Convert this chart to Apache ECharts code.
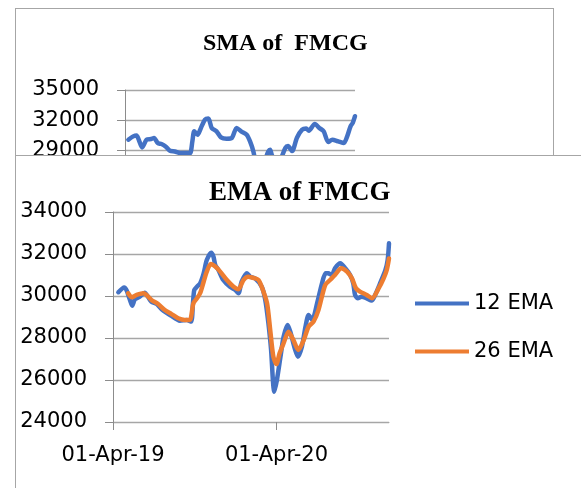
<!DOCTYPE html>
<html>
<head>
<meta charset="utf-8">
<script src="https://cdn.jsdelivr.net/npm/echarts@6/dist/echarts.min.js"></script>
<style>
html,body{margin:0;padding:0;background:#fff;overflow:hidden;width:581px;height:488px;}
#smaBox{position:absolute;left:15px;top:8px;width:537px;height:300px;border:1px solid #a6a6a6;background:#fff;}
#emaBox{position:absolute;left:15px;top:155px;width:578px;height:338px;border:1px solid #a6a6a6;background:#fff;z-index:2;}
</style>
</head>
<body>
<div id="smaBox"></div>
<div id="emaBox"></div>
<script>
// top chart (mostly covered): simple moving average
var smaDates = ['2019-04-10','2019-04-23','2019-05-02','2019-05-08','2019-05-17','2019-05-29','2019-06-10','2019-06-18','2019-06-28','2019-07-08',
    '2019-07-19','2019-07-31','2019-08-13','2019-08-27','2019-09-14','2019-09-23','2019-09-29','2019-10-04','2019-10-13','2019-10-22',
    '2019-11-02','2019-11-11','2019-11-20','2019-12-03','2019-12-15','2019-12-30','2020-01-13','2020-01-26','2020-02-07','2020-02-22',
    '2020-03-02','2020-03-11','2020-03-20','2020-03-28','2020-04-06','2020-04-14','2020-04-20','2020-04-25','2020-04-30','2020-05-08',
    '2020-05-16','2020-05-24','2020-06-05','2020-06-12','2020-06-23','2020-07-06','2020-07-20','2020-07-31','2020-08-07','2020-08-23',
    '2020-09-04','2020-09-16','2020-09-28','2020-10-09','2020-10-25','2020-11-09','2020-11-18','2020-11-27','2020-12-03','2020-12-09'];
var smaValues = [30070,30400,30500,30070,29300,30070,30140,30240,29740,29640,
    29400,28970,28900,28740,28740,28740,29900,30900,30570,31240,
    32070,32170,31240,30900,30300,30170,30240,31240,30900,30570,
    29900,28900,27200,26200,27000,28300,28900,29070,28500,28000,
    27800,28200,29270,29440,28940,30270,31070,31170,30970,31640,
    31240,30900,29840,30070,29900,29740,30400,31400,31740,32400];

// bottom chart: 12 / 26 day EMA
var ema12Dates = ['2019-04-13','2019-04-26','2019-05-01','2019-05-09','2019-05-14','2019-05-20','2019-05-31','2019-06-11','2019-06-19','2019-06-26',
    '2019-07-08','2019-07-19','2019-07-31','2019-08-10','2019-08-22','2019-08-29','2019-09-13','2019-09-23','2019-09-27','2019-09-30',
    '2019-10-06','2019-10-13','2019-10-21','2019-10-28','2019-11-07','2019-11-12','2019-11-16','2019-11-23','2019-12-04','2019-12-19',
    '2019-12-31','2020-01-07','2020-01-14','2020-01-26','2020-02-02','2020-02-13','2020-02-28','2020-03-07','2020-03-14','2020-03-20',
    '2020-03-24','2020-03-27','2020-04-02','2020-04-10','2020-04-17','2020-04-26','2020-05-02','2020-05-13','2020-05-19','2020-05-28',
    '2020-06-05','2020-06-12','2020-06-20','2020-07-01','2020-07-12','2020-07-20','2020-07-26','2020-08-03','2020-08-10','2020-08-22',
    '2020-09-02','2020-09-13','2020-09-20','2020-09-24','2020-09-30','2020-10-09','2020-10-20','2020-10-31','2020-11-08','2020-11-19',
    '2020-12-01','2020-12-06','2020-12-09'];
var ema12Values = [30180,30410,30290,29810,29540,29840,29970,30160,29940,29730,
    29620,29370,29180,29050,28890,28820,28860,28780,29650,30290,
    30440,30600,31080,31710,32060,31870,31480,31240,30760,30440,
    30290,30130,30680,31080,30920,30840,30440,29810,28700,27430,
    26000,25440,26000,27110,28060,28620,28300,27430,27110,27590,
    28540,29100,28860,29650,30600,31080,31080,31000,31320,31560,
    31320,31000,30600,30050,29890,29970,29890,29780,30050,30600,
    31240,31710,32510];

var ema26Dates = ['2019-05-05','2019-05-13','2019-05-24','2019-06-08','2019-06-15','2019-06-26','2019-07-11','2019-07-26','2019-08-10','2019-08-25',
    '2019-09-09','2019-09-20','2019-09-28','2019-10-06','2019-10-13','2019-10-21','2019-10-28','2019-11-06','2019-11-16','2019-11-27',
    '2019-12-12','2019-12-27','2020-01-07','2020-01-18','2020-01-29','2020-02-13','2020-02-21','2020-02-28','2020-03-11','2020-03-18',
    '2020-03-25','2020-04-01','2020-04-08','2020-04-17','2020-04-28','2020-05-09','2020-05-20','2020-06-01','2020-06-12','2020-06-23',
    '2020-07-04','2020-07-19','2020-07-30','2020-08-10','2020-08-24','2020-09-06','2020-09-17','2020-09-26','2020-10-05','2020-10-20',
    '2020-11-01','2020-11-16','2020-11-27','2020-12-04','2020-12-09'];
var ema26Values = [30130,29940,30050,30130,30050,29810,29620,29330,29140,28940,
    28860,28860,29650,29890,30130,30680,31160,31520,31400,31160,
    30760,30440,30320,30760,30920,30840,30760,30440,29650,28380,
    27110,26760,27270,27750,28300,27900,27430,27900,28540,28780,
    29330,30520,30760,31000,31320,31160,30840,30370,30210,30050,
    29890,30370,30840,31240,31790];

var dateLabels = ['2019-04-01', '2020-04-01'];
var firstDay = '2019-04-01', lastDay = '2020-12-09';

function pairs(dates, vals) {
    return dates.map(function (d, i) { return [d, vals[i]]; });
}

var labelFont = 'DejaVu Sans';
var gridGray = '#a6a6a6', axisGray = '#8c8c8c';

function xAxisOpt() {
    return {
        type: 'time',
        min: firstDay,
        max: lastDay,
        axisLine: { show: true, lineStyle: { color: gridGray, width: 1 } },
        axisTick: { show: true, length: 8, customValues: dateLabels, lineStyle: { color: axisGray } },
        axisLabel: {
            customValues: dateLabels,
            formatter: '{dd}-{MMM}-{yy}',
            color: '#000', fontFamily: labelFont, fontSize: 21, margin: 23
        },
        splitLine: { show: false }
    };
}

function yAxisOpt(min, max, step) {
    return {
        type: 'value',
        min: min, max: max, interval: step,
        axisLine: { show: true, lineStyle: { color: axisGray, width: 1 } },
        axisTick: { show: true, length: 8, lineStyle: { color: axisGray } },
        axisLabel: {
            color: '#000', fontFamily: labelFont, fontSize: 21, margin: 26,
            formatter: function (v) { return String(v); }
        },
        splitLine: { show: true, lineStyle: { color: gridGray, width: 1.3 } }
    };
}

function lineSeries(name, data, color) {
    return {
        name: name, type: 'line', data: data,
        symbol: 'none', smooth: 0.25,
        lineStyle: { color: color, width: 4.5, cap: 'round', join: 'round' },
        itemStyle: { color: color }
    };
}

var smaChart = echarts.init(document.getElementById('smaBox'));
smaChart.setOption({
    animation: false,
    title: {
        text: 'SMA of  FMCG', left: 182, top: 18,
        textStyle: { fontFamily: 'Liberation Serif', fontWeight: 'bold', fontSize: 24, color: '#000' }
    },
    grid: { left: 109, top: 81, width: 230, height: 121, containLabel: false },
    xAxis: xAxisOpt(),
    yAxis: yAxisOpt(23000, 35000, 3000),
    series: [lineSeries('SMA', pairs(smaDates, smaValues), '#4472C4')]
});

var emaChart = echarts.init(document.getElementById('emaBox'));
emaChart.setOption({
    animation: false,
    title: {
        text: 'EMA of FMCG', left: 188, top: 19,
        textStyle: { fontFamily: 'Liberation Serif', fontWeight: 'bold', fontSize: 27, color: '#000' }
    },
    legend: {
        orient: 'vertical', left: 394, top: 132, itemGap: 27,
        itemWidth: 54, itemHeight: 4, icon: 'rect',
        textStyle: { fontFamily: labelFont, fontSize: 21, color: '#000' },
        data: ['12 EMA', '26 EMA']
    },
    grid: { left: 97, top: 56, width: 276, height: 210, containLabel: false },
    xAxis: xAxisOpt(),
    yAxis: yAxisOpt(24000, 34000, 2000),
    series: [
        lineSeries('12 EMA', pairs(ema12Dates, ema12Values), '#4472C4'),
        lineSeries('26 EMA', pairs(ema26Dates, ema26Values), '#ED7D31')
    ]
});
</script>
</body>
</html>
